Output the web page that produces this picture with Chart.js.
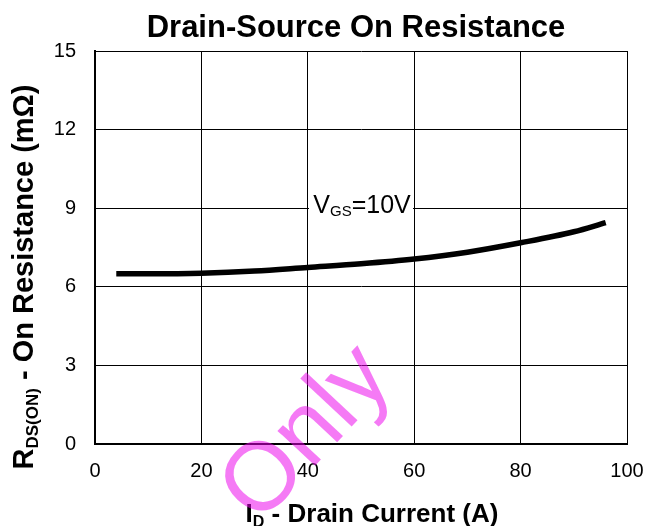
<!DOCTYPE html>
<html>
<head>
<meta charset="utf-8">
<script src="https://cdn.jsdelivr.net/npm/chart.js@4.4.1/dist/chart.umd.min.js"></script>
<style>
  html, body { margin: 0; padding: 0; background: #fff; }
  #wrap { width: 645px; height: 526px; }
</style>
</head>
<body>
<div id="wrap"><canvas id="rdsOnChart" width="645" height="526"></canvas></div>
<script>
// values
const drainCurrent = [4, 10, 20, 30, 40, 50, 60, 70, 80, 90, 96];
const onResistance = [6.5, 6.5, 6.52, 6.6, 6.74, 6.88, 7.06, 7.32, 7.68, 8.1, 8.45];
const xTicks = [0, 20, 40, 60, 80, 100];
const yTicks = [0, 3, 6, 9, 12, 15];
const curveLabelAt = [50, 9.15];

const FONT = '"Liberation Sans", Arial, sans-serif';

// draw a row of text pieces (for subscripts), centred on x
function drawRuns(ctx, runs, x, y) {
    let total = 0;
    runs.forEach(r => { ctx.font = r.font; total += ctx.measureText(r.text).width; });
    let cx = x - total / 2;
    ctx.textAlign = 'left';
    ctx.textBaseline = 'alphabetic';
    runs.forEach(r => {
        ctx.font = r.font;
        ctx.fillText(r.text, cx, y + (r.dy || 0));
        cx += ctx.measureText(r.text).width;
    });
}

const extrasPlugin = {
    id: 'extras',
    afterDraw(chart) {
        const ctx = chart.ctx;
        const xs = chart.scales.x, ys = chart.scales.y;
        ctx.save();
        ctx.fillStyle = '#000';

        // title
        drawRuns(ctx, [{ text: 'Drain-Source On Resistance', font: 'bold 31px ' + FONT }], 356, 37);

        // x axis title
        drawRuns(ctx, [
            { text: 'I', font: 'bold 26px ' + FONT },
            { text: 'D', font: 'bold 16px ' + FONT, dy: 5 },
            { text: ' - Drain Current (A)', font: 'bold 26px ' + FONT }
        ], 372, 522);

        // y axis title
        ctx.save();
        ctx.translate(33, 277);
        ctx.rotate(-Math.PI / 2);
        drawRuns(ctx, [
            { text: 'R', font: 'bold 29px ' + FONT },
            { text: 'DS(ON)', font: 'bold 17px ' + FONT, dy: 5 },
            { text: ' - On Resistance (m\u03A9)', font: 'bold 29px ' + FONT }
        ], 0, 0);
        ctx.restore();

        // curve label with white box over the grid
        const lx = xs.getPixelForValue(curveLabelAt[0]);
        const ly = ys.getPixelForValue(curveLabelAt[1]);
        ctx.fillStyle = '#fff';
        ctx.fillRect(lx - 52, ly - 16.5, 104, 33);
        ctx.fillStyle = '#000';
        drawRuns(ctx, [
            { text: 'V', font: '25px ' + FONT },
            { text: 'GS', font: '15px ' + FONT, dy: 3 },
            { text: '=10V', font: '25px ' + FONT }
        ], lx + 1, ly + 9);

        // watermark
        ctx.save();
        ctx.translate(327, 453);
        ctx.rotate(-47 * Math.PI / 180);
        ctx.fillStyle = 'rgba(235, 0, 235, 0.52)';
        ctx.font = '97px ' + FONT;
        ctx.textAlign = 'center';
        ctx.textBaseline = 'alphabetic';
        ctx.fillText('Only', 0, 0);
        ctx.restore();

        ctx.restore();
    }
};

const ctxRds = document.getElementById('rdsOnChart').getContext('2d');
const rdsOnChart = new Chart(ctxRds, {
    type: 'line',
    data: {
        datasets: [{
            label: 'VGS=10V',
            data: drainCurrent.map((x, i) => ({ x: x, y: onResistance[i] })),
            borderColor: '#000',
            borderWidth: 5.5,
            pointRadius: 0,
            cubicInterpolationMode: 'monotone',
            fill: false
        }]
    },
    options: {
        responsive: false,
        animation: false,
        devicePixelRatio: 1,
        layout: { padding: { top: 51, right: 18, left: 0, bottom: 0 } },
        plugins: {
            legend: { display: false },
            title: { display: false },
            tooltip: { enabled: false }
        },
        scales: {
            x: {
                type: 'linear',
                min: 0,
                max: 100,
                afterBuildTicks: s => { s.ticks = xTicks.map(v => ({ value: v })); },
                afterFit: s => { s.height = 82; s.paddingLeft = 0; s.paddingRight = 0; },
                ticks: { color: '#000', font: { family: FONT, size: 20 }, padding: 15, maxRotation: 0 },
                grid: { color: '#000', lineWidth: 1, drawTicks: false },
                border: { color: '#000', width: 2 }
            },
            y: {
                type: 'linear',
                min: 0,
                max: 15,
                afterBuildTicks: s => { s.ticks = yTicks.map(v => ({ value: v })); },
                afterFit: s => { s.width = 95; s.paddingTop = 0; s.paddingBottom = 0; },
                ticks: { color: '#000', font: { family: FONT, size: 20 }, padding: 19 },
                grid: { color: '#000', lineWidth: 1, drawTicks: false },
                border: { color: '#000', width: 2 }
            }
        }
    },
    plugins: [extrasPlugin]
});
</script>
</body>
</html>
